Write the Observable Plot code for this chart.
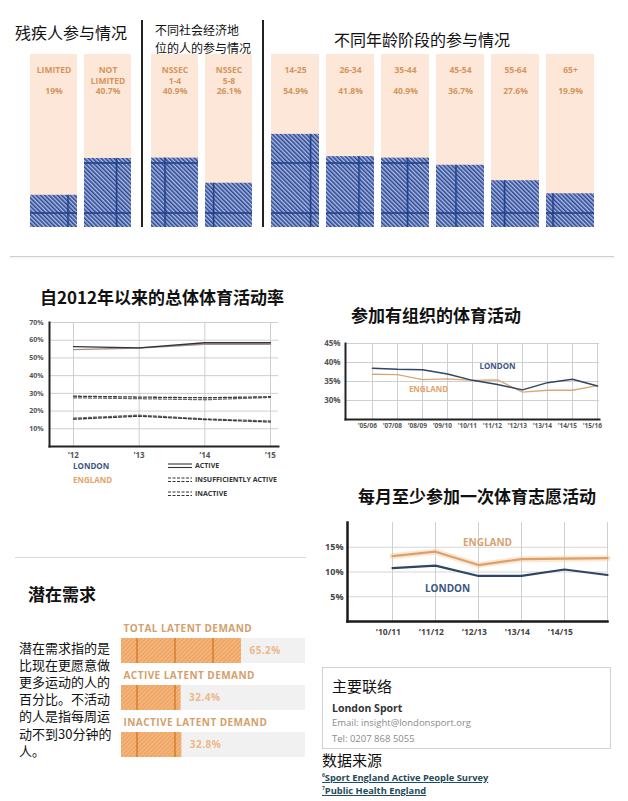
<!DOCTYPE html>
<html><head><meta charset="utf-8">
<script src="https://cdn.jsdelivr.net/npm/d3@7"></script>
<script src="https://cdn.jsdelivr.net/npm/@observablehq/plot@0.6"></script>
<style>
body{margin:0;background:#fff;}
#page{position:relative;width:628px;height:801px;overflow:hidden;background:#fff;}
#page svg{overflow:visible;}
.latent text{letter-spacing:0.45px;}
</style>
</head><body>
<svg width="0" height="0" style="position:absolute">
<defs>
<pattern id="hatchBlue" patternUnits="userSpaceOnUse" width="3" height="3" patternTransform="rotate(-45)">
<rect width="3" height="3" fill="#aebde6"/>
<line x1="0.8" y1="0" x2="0.8" y2="3" stroke="#24418d" stroke-width="1.5"/>
</pattern>
<pattern id="plaidBlue" patternUnits="userSpaceOnUse" width="48.5" height="50">
<line x1="19.5" y1="0" x2="19.5" y2="50" stroke="#1c3c86" stroke-width="1.6"/>
<line x1="0" y1="9" x2="48.5" y2="9" stroke="#1c3c86" stroke-width="1.6"/>
</pattern>
<pattern id="hatchOrange" patternUnits="userSpaceOnUse" width="3" height="3" patternTransform="rotate(45)">
<rect width="3" height="3" fill="#efa25e"/>
<line x1="0.8" y1="0" x2="0.8" y2="3" stroke="#f6c594" stroke-width="1"/>
</pattern>
<pattern id="plaidOrange" patternUnits="userSpaceOnUse" width="38" height="200">
<line x1="22" y1="0" x2="22" y2="200" stroke="#d9802e" stroke-width="1.6"/>
</pattern>
</defs>
</svg>
<div id="page"></div>
<script>
// ---------- DATA ----------
const disabilityCats = ["LIMITED", "NOT LIMITED"];
const disabilityVals = [19, 40.7];
const nssecCats = ["NSSEC 1-4", "NSSEC 5-8"];
const nssecVals = [40.9, 26.1];
const ageCats = ["14-25", "26-34", "35-44", "45-54", "55-64", "65+"];
const ageVals = [54.9, 41.8, 40.9, 36.7, 27.6, 19.9];

const activityYears = [2012, 2013, 2014, 2015];
const activeLondon = [56.4, 55.7, 58.6, 58.6];
const activeEngland = [54.7, 55.6, 57.7, 57.7];
const insuffLondon = [28.4, 27.9, 27.5, 28.1];
const insuffEngland = [27.5, 27.0, 26.4, 27.7];
const inactiveLondon = [15.4, 17.1, 15.2, 13.8];
const inactiveEngland = [16.0, 17.7, 15.6, 14.4];
const activityTicks = [10, 20, 30, 40, 50, 60, 70];

const orgSeasons = ["’05/06", "’07/08", "’08/09", "’09/10", "’10/11", "’11/12", "’12/13", "’13/14", "’14/15", "’15/16"];
const orgLondon = [38.5, 38.2, 38.1, 37.0, 35.3, 34.2, 32.8, 34.7, 35.6, 33.8];
const orgEngland = [36.9, 36.8, 35.5, 35.7, 35.3, 35.4, 32.2, 32.7, 32.7, 33.9];
const orgTicks = [30, 35, 40, 45];

const volSeasons = ["’10/11", "’11/12", "’12/13", "’13/14", "’14/15", "’15/16"];
const volEngland = [13.2, 14.1, 11.4, 12.6, 12.7, 12.8];
const volLondon = [10.8, 11.3, 9.2, 9.2, 10.5, 9.4];
const volTicks = [5, 10, 15];
const volTickLabels = ["’10/11", "’11/12", "’12/13", "’13/14", "’14/15"];

const latentCats = ["TOTAL LATENT DEMAND", "ACTIVE LATENT DEMAND", "INACTIVE LATENT DEMAND"];
const latentVals = [65.2, 32.4, 32.8];

// ---------- HELPERS ----------
const CJK = '"Noto Sans CJK SC", sans-serif';
const LAT = '"Open Sans", "Noto Sans", sans-serif';
const NAVY = "#2e4566";
const TAN = "#e3a467";
const PAGE = document.getElementById("page");

function place(node, left, top) {
  node.style.position = "absolute";
  node.style.left = left + "px";
  node.style.top = top + "px";
  PAGE.appendChild(node);
  return node;
}
function label(html, left, cy, o = {}) {
  const lh = o.lh || 20;
  const d = document.createElement("div");
  d.innerHTML = html;
  Object.assign(d.style, {
    position: "absolute", left: left + "px", top: (cy - lh / 2) + "px",
    lineHeight: lh + "px", whiteSpace: "nowrap", fontSize: (o.size || 14) + "px",
    fontWeight: o.weight || 400, color: o.color || "#111", fontFamily: o.font || CJK
  }, o.extra || {});
  PAGE.appendChild(d);
  return d;
}
function block(left, top, w, h, style) {
  const d = document.createElement("div");
  Object.assign(d.style, {position: "absolute", left: left + "px", top: top + "px", width: w + "px", height: h + "px"}, style);
  PAGE.appendChild(d);
  return d;
}

// ---------- TOP: PARTICIPATION BARS ----------
const BAR_MAX = 102;
function barText(d) {
  const parts = d.cat.split(" ");
  if (parts.length === 1) parts.push("");
  return parts.join("\n") + "\n" + d.value + "%";
}
function barPanel(cats, vals, x0, x1) {
  const data = cats.map((c, i) => ({cat: c, value: vals[i]}));
  const svg = Plot.plot({
    width: 628, height: 173, marginTop: 0, marginBottom: 0, marginLeft: x0, marginRight: 628 - x1,
    x: {type: "band", domain: cats, paddingInner: 0.127, paddingOuter: 0, axis: null},
    y: {domain: [0, BAR_MAX], axis: null},
    style: {background: "transparent", fontFamily: LAT},
    marks: [
      Plot.barY(data, {x: "cat", y1: 0, y2: () => BAR_MAX, fill: "#fde7d8"}),
      Plot.barY(data, {x: "cat", y: "value", fill: "url(#hatchBlue)"}),
      Plot.barY(data, {x: "cat", y: "value", fill: "url(#plaidBlue)"}),
      Plot.text(data, {x: "cat", y: () => BAR_MAX, text: barText, lineAnchor: "top", dy: 11,
        lineHeight: 1.25, fontSize: 8.5, fontWeight: 700, fill: "#d4965c"})
    ]
  });
  return place(svg, 0, 54);
}
barPanel(disabilityCats, disabilityVals, 29, 132);
barPanel(nssecCats, nssecVals, 150, 253);
barPanel(ageCats, ageVals, 271, 595);

label("残疾人参与情况", 15, 32, {size: 16});
label("不同社会经济地", 155, 29.5, {size: 12, lh: 17});
label("位的人的参与情况", 155, 47, {size: 12, lh: 17});
label("不同年龄阶段的参与情况", 334, 39, {size: 16});
block(141, 20, 1.5, 207, {background: "#222"});
block(262, 20, 1.5, 207, {background: "#222"});
block(10, 256, 604, 1, {background: "#cfcfcf", boxShadow: "0 1px 2px #e6e6e6"});

// ---------- CHART 1: ACTIVITY SINCE 2012 ----------
const ser = (xs, vs, key) => xs.map((x, i) => ({[key]: x, value: vs[i]}));
const axisStyle = {fontFamily: LAT, fontWeight: 700, color: "#555", background: "transparent"};
const ch1 = Plot.plot({
  width: 290, height: 150, marginLeft: 49, marginRight: 12, marginTop: 10, marginBottom: 16,
  x: {domain: [2012, 2015], range: [73, 270]},
  y: {domain: [0, 70]},
  style: {...axisStyle, fontSize: "7px"},
  marks: [
    Plot.gridY(activityTicks, {stroke: "#cfcfcf", strokeOpacity: 1}),
    Plot.gridX(activityYears, {stroke: "#cfcfcf", strokeOpacity: 1}),
    Plot.axisY(activityTicks, {tickSize: 0, tickPadding: 6, tickFormat: d => d + "%", label: null, fontSize: 7}),
    Plot.axisX(activityYears, {tickSize: 0, tickPadding: 6, tickFormat: d => "’" + String(d).slice(2), label: null, fontSize: 8}),
    Plot.line(ser(activityYears, activeEngland, "year"), {x: "year", y: "value", stroke: "#a89080", strokeWidth: 1.4}),
    Plot.line(ser(activityYears, activeLondon, "year"), {x: "year", y: "value", stroke: "#2d3340", strokeWidth: 1.4}),
    Plot.line(ser(activityYears, insuffEngland, "year"), {x: "year", y: "value", stroke: "#6a6a6a", strokeWidth: 1.3, strokeDasharray: "3,2"}),
    Plot.line(ser(activityYears, insuffLondon, "year"), {x: "year", y: "value", stroke: "#3a3a3a", strokeWidth: 1.3, strokeDasharray: "3,2"}),
    Plot.line(ser(activityYears, inactiveEngland, "year"), {x: "year", y: "value", stroke: "#6a6a6a", strokeWidth: 1.3, strokeDasharray: "3,2"}),
    Plot.line(ser(activityYears, inactiveLondon, "year"), {x: "year", y: "value", stroke: "#3a3a3a", strokeWidth: 1.3, strokeDasharray: "3,2"}),
    Plot.frame({anchor: "left", stroke: "#222", strokeWidth: 2}),
    Plot.frame({anchor: "bottom", stroke: "#222", strokeWidth: 2})
  ]
});
place(ch1, 0, 312);
label("自2012年以来的总体体育活动率", 40, 297, {size: 17, weight: 700});

// legend of chart 1
const legFont = {font: LAT, weight: 700, lh: 12};
label("LONDON", 73, 466, {...legFont, size: 8, color: "#3b5680"});
label("ENGLAND", 73, 480, {...legFont, size: 8, color: TAN});
function legendSym(top, dashed) {
  const ns = "http://www.w3.org/2000/svg";
  const s = document.createElementNS(ns, "svg");
  s.setAttribute("width", 24); s.setAttribute("height", 6);
  for (const y of [1, 4.5]) {
    const l = document.createElementNS(ns, "line");
    l.setAttribute("x1", 0); l.setAttribute("x2", 24); l.setAttribute("y1", y); l.setAttribute("y2", y);
    l.setAttribute("stroke", "#333"); l.setAttribute("stroke-width", 1.1);
    if (dashed) l.setAttribute("stroke-dasharray", "3,1.5");
    s.appendChild(l);
  }
  place(s, 168, top);
}
legendSym(463, false); legendSym(477, true); legendSym(491, true);
label("ACTIVE", 195, 466, {...legFont, size: 7, color: "#333"});
label("INSUFFICIENTLY ACTIVE", 195, 480, {...legFont, size: 7, color: "#333"});
label("INACTIVE", 195, 494, {...legFont, size: 7, color: "#333"});

// ---------- CHART 2: ORGANISED SPORT ----------
const orgL = ser(orgSeasons, orgLondon, "season");
const orgE = ser(orgSeasons, orgEngland, "season");
const ch2 = Plot.plot({
  width: 310, height: 100, marginLeft: 45, marginRight: 11, marginTop: 8, marginBottom: 16,
  x: {type: "point", domain: orgSeasons, range: [70, 299], padding: 0},
  y: {domain: [25, 45]},
  style: {...axisStyle, fontSize: "7px"},
  marks: [
    Plot.gridY(orgTicks, {stroke: "#cfcfcf", strokeOpacity: 1}),
    Plot.gridX(orgSeasons, {stroke: "#cfcfcf", strokeOpacity: 1}),
    Plot.axisY(orgTicks, {tickSize: 0, tickPadding: 5, tickFormat: d => d + "%", label: null, fontSize: 8}),
    Plot.axisX(orgSeasons, {tickSize: 0, tickPadding: 4, label: null, fontSize: 6.5, dx: -5}),
    Plot.line(orgE, {x: "season", y: "value", stroke: "#d9a878", strokeWidth: 1.4}),
    Plot.line(orgL, {x: "season", y: "value", stroke: NAVY, strokeWidth: 1.5}),
    Plot.text(orgL.filter(d => d.season === "’11/12"), {x: "season", y: "value", text: () => "LONDON", dy: -18,
      fill: "#3b5680", fontSize: 8, fontWeight: 700}),
    Plot.text(orgE.filter(d => d.season === "’08/09"), {x: "season", y: "value", text: () => "ENGLAND", dy: 10, dx: 6,
      fill: TAN, fontSize: 8, fontWeight: 700}),
    Plot.frame({anchor: "left", stroke: "#222", strokeWidth: 2}),
    Plot.frame({anchor: "bottom", stroke: "#222", strokeWidth: 2})
  ]
});
place(ch2, 300, 335);
label("参加有组织的体育活动", 351, 315, {size: 17, weight: 700});

// ---------- CHART 3: VOLUNTEERING ----------
const volL = ser(volSeasons, volLondon, "season");
const volE = ser(volSeasons, volEngland, "season");
const ch3 = Plot.plot({
  width: 315, height: 125, marginLeft: 47, marginRight: 8, marginTop: 7, marginBottom: 19,
  x: {type: "point", domain: volSeasons, range: [92, 307], padding: 0},
  y: {domain: [0, 20]},
  style: {...axisStyle, fontSize: "9px", color: "#444"},
  marks: [
    Plot.gridY(volTicks, {stroke: "#d6d6d6", strokeOpacity: 1}),
    Plot.gridX(volSeasons, {stroke: "#cfcfcf", strokeOpacity: 1}),
    Plot.axisY(volTicks, {tickSize: 0, tickPadding: 4, tickFormat: d => d + "%", label: null, fontSize: 9}),
    Plot.axisX(volTickLabels, {tickSize: 0, tickPadding: 7, label: null, fontSize: 8.5, dx: -4}),
    Plot.line(volE, {x: "season", y: "value", stroke: "#f3c9a0", strokeWidth: 6, strokeOpacity: 0.45}),
    Plot.line(volE, {x: "season", y: "value", stroke: "#dea06a", strokeWidth: 2.2}),
    Plot.line(volL, {x: "season", y: "value", stroke: NAVY, strokeWidth: 2.2}),
    Plot.text(volE.filter(d => d.season === "’12/13"), {x: "season", y: "value", text: () => "ENGLAND", dy: -22, dx: 9,
      fill: "#d9a170", fontSize: 10, fontWeight: 700}),
    Plot.text(volL.filter(d => d.season === "’11/12"), {x: "season", y: "value", text: () => "LONDON", dy: 23, dx: 12,
      fill: "#3b5680", fontSize: 10, fontWeight: 700}),
    Plot.frame({anchor: "left", stroke: "#1a1a1a", strokeWidth: 2.5}),
    Plot.frame({anchor: "bottom", stroke: "#1a1a1a", strokeWidth: 2.5})
  ]
});
place(ch3, 300, 515);
label("每月至少参加一次体育志愿活动", 358, 496, {size: 17, weight: 700});

// ---------- LATENT DEMAND ----------
block(15, 557, 291, 1, {background: "#d8d8d8"});
label("潜在需求", 28, 594, {size: 17, weight: 700});
const paraLines = ["潜在需求指的是", "比现在更愿意做", "更多运动的人的", "百分比。不活动", "的人是指每周运", "动不到30分钟的", "人。"];
paraLines.forEach((t, i) => label(t, 19, 647 + i * 17.2, {size: 13, lh: 17}));
const latentData = latentCats.map((c, i) => ({cat: c, value: latentVals[i]}));
const lat = Plot.plot({
  width: 200, height: 150, marginLeft: 6, marginRight: 10, marginTop: 0, marginBottom: 0,
  className: "latent",
  x: {domain: [0, 100], axis: null},
  y: {type: "band", domain: latentCats, range: [22, 142], paddingInner: 0.47, paddingOuter: 0, axis: null},
  style: {fontFamily: LAT, background: "transparent"},
  marks: [
    Plot.barX(latentData, {y: "cat", x1: 0, x2: () => 100, fill: "#f1f1f1"}),
    Plot.barX(latentData, {y: "cat", x: "value", fill: "url(#hatchOrange)"}),
    Plot.barX(latentData, {y: "cat", x: "value", fill: "url(#plaidOrange)"}),
    Plot.text(latentData, {y: "cat", x: 0, text: "cat", dy: -22, dx: 2, textAnchor: "start",
      fill: "#d4a06c", fontSize: 10, fontWeight: 700}),
    Plot.text(latentData, {y: "cat", x: "value", text: d => d.value + "%", dx: 8, textAnchor: "start",
      fill: "#edb88c", fontSize: 10, fontWeight: 700})
  ]
});
place(lat, 115, 615);

// ---------- CONTACT & SOURCES ----------
block(322, 667, 289, 82, {border: "1px solid #d2d2d2", boxSizing: "border-box"});
label("主要联络", 332, 686, {size: 15});
label("London Sport", 332, 708, {size: 10.5, weight: 700, font: LAT, color: "#333"});
label("Email: insight@londonsport.org", 332, 723, {size: 9.5, font: LAT, color: "#8a8a8a"});
label("Tel: 0207 868 5055", 332, 739, {size: 9.5, font: LAT, color: "#8a8a8a"});
label("数据来源", 322, 760, {size: 15});
const linkStyle = {size: 9.3, weight: 700, font: LAT, color: "#1f4b5c", lh: 12, extra: {textDecoration: "underline"}};
label("<sup style='font-size:5px'>6</sup>Sport England Active People Survey", 322, 775, linkStyle);
label("<sup style='font-size:5px'>7</sup>Public Health England", 322, 788, linkStyle);
</script>
</body></html>
